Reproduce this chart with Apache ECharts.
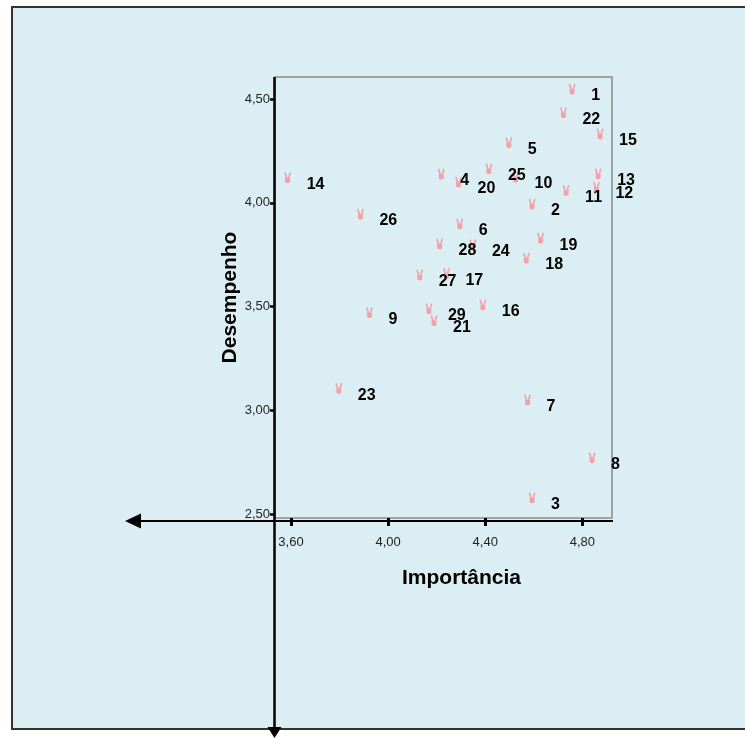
<!DOCTYPE html>
<html>
<head>
<meta charset="utf-8">
<script src="https://cdn.jsdelivr.net/npm/echarts@6/dist/echarts.min.js"></script>
<style>
html,body{margin:0;padding:0;background:#fff;}
#c{width:745px;height:738px;}
</style>
</head>
<body>
<div id="c"></div>
<script>
// ---- data ----
const ids = ['1','2','3','4','5','6','7','8','9','10','11','12','13','14','15','16','17','18','19','20','21','22','23','24','25','26','27','28','29'];
const importancia = [4.758,4.593,4.593,4.219,4.497,4.295,4.574,4.840,3.923,4.525,4.733,4.858,4.865,3.586,4.873,4.390,4.240,4.569,4.628,4.290,4.189,4.722,3.797,4.349,4.415,3.886,4.130,4.212,4.168];
const desempenho = [4.548,3.994,2.580,4.139,4.291,3.899,3.051,2.773,3.472,4.124,4.060,4.076,4.140,4.122,4.333,3.509,3.661,3.734,3.830,4.100,3.433,4.435,3.107,3.798,4.164,3.946,3.653,3.803,3.491];
const xTicks = [3.6, 4.0, 4.4, 4.8];
const yTicks = [2.5, 3.0, 3.5, 4.0, 4.5];
const xTitle = 'Importância';
const yTitle = 'Desempenho';

const FONT = '"Liberation Sans", Arial, Helvetica, sans-serif';
const fmt = v => Number(v).toFixed(2).replace('.', ',');
const points = ids.map((id, i) => [importancia[i], desempenho[i], id]);

const hand = 'path://M0.5,1.2 L2.4,0 L4.6,7 L2.6,7.6 Z M9.5,1.2 L7.6,0 L5.4,7 L7.4,7.6 Z M1.8,7 L8.2,7 L8.2,11.5 Q8.2,14 6,14 L4,14 Q1.8,14 1.8,11.5 Z';

const chart = echarts.init(document.getElementById('c'), null, {renderer: 'canvas'});
chart.setOption({
  backgroundColor: '#ffffff',
  animation: false,
  grid: {
    left: 275, top: 77, width: 337, height: 441,
    show: true, borderColor: '#8a8a8a', borderWidth: 1.5, backgroundColor: 'transparent'
  },
  xAxis: {
    type: 'value', min: 3.534, max: 4.922,
    splitLine: {show: false},
    axisLine: {show: false},
    axisTick: {show: true, customValues: xTicks, length: 8, lineStyle: {color: '#000', width: 3}},
    axisLabel: {customValues: xTicks, formatter: fmt, margin: 18, fontSize: 13, color: '#222', fontFamily: FONT},
    name: xTitle, nameLocation: 'middle', nameGap: 50,
    nameTextStyle: {fontSize: 21, fontWeight: 'bold', color: '#000', fontFamily: FONT, padding: [0, 0, 0, 36]}
  },
  yAxis: {
    type: 'value', min: 2.482, max: 4.606,
    splitLine: {show: false},
    axisLine: {show: false},
    axisTick: {show: true, customValues: yTicks, length: 5, lineStyle: {color: '#000', width: 2.5}},
    axisLabel: {customValues: yTicks, formatter: fmt, margin: 5, fontSize: 13, color: '#222', fontFamily: FONT, padding: [4, 0, 0, 0]},
    name: yTitle, nameLocation: 'middle', nameGap: 34,
    nameTextStyle: {fontSize: 21, fontWeight: 'bold', color: '#000', fontFamily: FONT}
  },
  series: [{
    type: 'scatter',
    data: points,
    symbol: hand,
    symbolSize: [7, 11],
    symbolKeepAspect: false,
    itemStyle: {color: '#f2a1a8', opacity: 1},
    label: {
      show: true,
      formatter: p => p.value[2],
      position: [22.5, 12.5],
      align: 'left', verticalAlign: 'middle',
      fontSize: 16, fontWeight: 'bold', color: '#000', fontFamily: FONT
    },
    z: 5
  }],
  graphic: [
    {type: 'rect', z: -100, silent: true, shape: {x: 12, y: 7, width: 760, height: 722},
     style: {fill: '#dbeef3', stroke: '#333', lineWidth: 2}},
    {type: 'line', z: 100, silent: true, shape: {x1: 140, y1: 521, x2: 613, y2: 521},
     style: {stroke: '#000', lineWidth: 2}},
    {type: 'polygon', z: 100, silent: true, shape: {points: [[125, 521], [141, 513.5], [141, 528.5]]},
     style: {fill: '#000'}},
    {type: 'line', z: 100, silent: true, shape: {x1: 274.5, y1: 77, x2: 274.5, y2: 728},
     style: {stroke: '#000', lineWidth: 2.5}},
    {type: 'polygon', z: 100, silent: true, shape: {points: [[267.5, 727], [281.5, 727], [274.5, 738]]},
     style: {fill: '#000'}}
  ]
});
</script>
</body>
</html>
